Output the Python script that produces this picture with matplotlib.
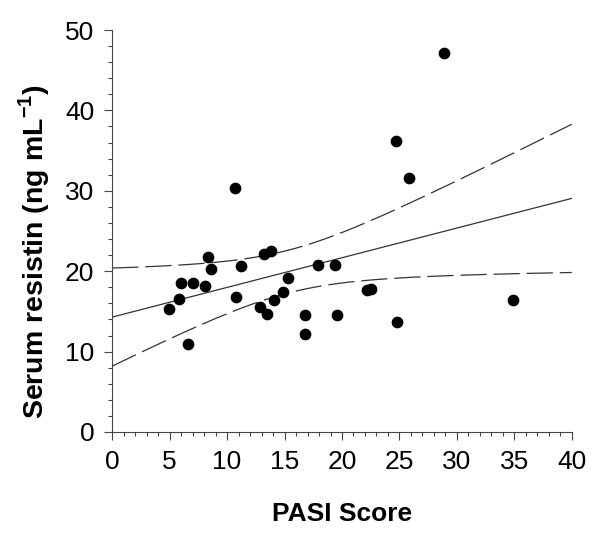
import numpy as np
import matplotlib
matplotlib.use('Agg')
import matplotlib.pyplot as plt
from matplotlib.ticker import MultipleLocator

plt.rcParams['font.family'] = ['Liberation Sans', 'DejaVu Sans']
plt.rcParams['mathtext.fontset'] = 'custom'
plt.rcParams['mathtext.bf'] = 'Liberation Sans:bold'
plt.rcParams['mathtext.rm'] = 'Liberation Sans'

# PASI score vs serum resistin
pasi = [10.7, 8.3, 13.2, 13.8, 8.6, 11.2, 17.9, 19.4, 6.0, 7.0,
        8.1, 15.3, 5.8, 4.9, 10.8, 14.9, 14.1, 12.9, 13.5, 16.8,
        19.6, 16.8, 6.6, 28.9, 24.7, 25.8, 22.2, 22.5, 24.8, 34.9]
resistin = [30.3, 21.8, 22.1, 22.5, 20.3, 20.6, 20.8, 20.8, 18.5, 18.5,
            18.1, 19.1, 16.5, 15.3, 16.8, 17.4, 16.4, 15.5, 14.7, 14.5,
            14.6, 12.2, 10.9, 47.1, 36.2, 31.6, 17.6, 17.8, 13.7, 16.4]

x = np.array(pasi)
y = np.array(resistin)

# linear fit and 95% confidence band
n = len(x)
slope, intercept = np.polyfit(x, y, 1)
resid = y - (slope * x + intercept)
s = np.sqrt(np.sum(resid ** 2) / (n - 2))
xs = np.linspace(0, 40, 200)
fit = slope * xs + intercept
t = 2.048  # t(0.975, 28)
se = s * np.sqrt(1 / n + (xs - x.mean()) ** 2 / np.sum((x - x.mean()) ** 2))

fig = plt.figure(figsize=(6, 5.41), dpi=100)
ax = fig.add_axes([0.187, 0.2015, 0.766, 0.743])

ax.plot(xs, fit, color='#333333', lw=0.9)
ax.plot(xs, fit + t * se, color='#333333', lw=0.9, dashes=(21, 5.5))
ax.plot(xs, fit - t * se, color='#333333', lw=0.9, dashes=(21, 5.5))
ax.scatter(x, y, s=55, color='black', zorder=3)

ax.set_xlim(0, 40)
ax.set_ylim(0, 50)
ax.xaxis.set_major_locator(MultipleLocator(5))
ax.xaxis.set_minor_locator(MultipleLocator(1))
ax.yaxis.set_major_locator(MultipleLocator(10))
ax.yaxis.set_minor_locator(MultipleLocator(2))
ax.tick_params(which='major', direction='out', length=6, width=0.8, labelsize=19, pad=7, color='#444444')
ax.tick_params(which='minor', direction='out', length=3, width=0.8, color='#444444')
ax.spines['top'].set_visible(False)
ax.spines['right'].set_visible(False)
for sp in ('left', 'bottom'):
    ax.spines[sp].set_color('#444444')
    ax.spines[sp].set_linewidth(0.8)

ax.set_xlabel('PASI Score', fontsize=19, fontweight='bold', labelpad=20)
ax.set_ylabel(r'Serum resistin (ng mL$^{\mathbf{-1}}$)', fontsize=20.5, fontweight='bold')
ax.yaxis.set_label_coords(-0.13, 0.45)

fig.savefig('out.png', dpi=100)
